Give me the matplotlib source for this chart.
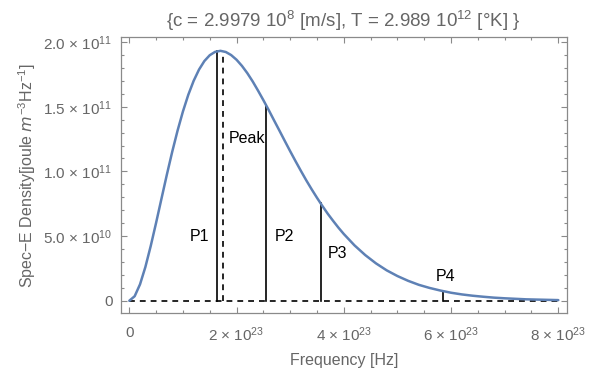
import matplotlib
matplotlib.use("Agg")
import matplotlib.pyplot as plt
from matplotlib.ticker import FixedLocator, MultipleLocator

plt.rcParams["font.family"] = ["Liberation Sans", "DejaVu Sans"]
plt.rcParams["mathtext.default"] = "regular"

# ── Data ──────────────────────────────────────────────
# frequency in units of 1e23 Hz, density in units of 1e11
freq = [0.0, 0.1, 0.2, 0.3, 0.4, 0.5, 0.6, 0.7, 0.8, 0.9,
        1.0, 1.1, 1.2, 1.3, 1.4, 1.5, 1.6, 1.7, 1.8, 1.9,
        2.0, 2.1, 2.2, 2.3, 2.4, 2.5, 2.6, 2.7, 2.8, 2.9,
        3.0, 3.1, 3.2, 3.3, 3.4, 3.5, 3.6, 3.7, 3.8, 3.9,
        4.0, 4.2, 4.4, 4.6, 4.8, 5.0, 5.2, 5.4, 5.6, 5.8,
        6.0, 6.2, 6.4, 6.6, 6.8, 7.0, 7.2, 7.4, 7.6, 7.8, 8.0]
density = [0.0, 0.035, 0.127, 0.261, 0.424, 0.603, 0.789, 0.974, 1.151, 1.315,
           1.463, 1.592, 1.700, 1.787, 1.853, 1.898, 1.924, 1.932, 1.923, 1.899,
           1.863, 1.816, 1.760, 1.696, 1.625, 1.551, 1.474, 1.394, 1.315, 1.235,
           1.156, 1.079, 1.004, 0.931, 0.862, 0.796, 0.733, 0.673, 0.618, 0.565,
           0.516, 0.428, 0.353, 0.289, 0.235, 0.191, 0.154, 0.123, 0.099, 0.079,
           0.062, 0.049, 0.039, 0.031, 0.024, 0.019, 0.015, 0.011, 0.009, 0.007, 0.005]

# marker lines: label, x position, height, label position
mark_names = ["P1", "P2", "P3", "P4"]
mark_x = [1.63, 2.549, 3.569, 5.855]
mark_h = [1.927, 1.513, 0.757, 0.076]
mark_lx = [1.30, 2.90, 3.89, 5.90]
mark_ly = [0.498, 0.495, 0.365, 0.191]

peak_x = 1.742
peak_h = 1.930
peak_lx, peak_ly = 2.19, 1.253

xticks = [0, 2, 4, 6, 8]
xtick_labels = ["0", "2 × 10$^{23}$", "4 × 10$^{23}$", "6 × 10$^{23}$", "8 × 10$^{23}$"]
yticks = [0, 0.5, 1.0, 1.5, 2.0]
ytick_labels = ["0", "5.0 × 10$^{10}$", "1.0 × 10$^{11}$", "1.5 × 10$^{11}$", "2.0 × 10$^{11}$"]

curve_color = "#5E81B5"
gray = "#666666"
frame = "#8a8a8a"

fig = plt.figure(figsize=(6.06, 3.74), dpi=100)
ax = fig.add_axes([0.1992, 0.1623, 0.7359, 0.7388])

ax.plot([0, 8], [0, 0], color="black", lw=1.2, ls=(0, (3.5, 3.0)), zorder=2)
ax.plot(freq, density, color=curve_color, lw=1.8, zorder=3,
        solid_joinstyle="round", solid_capstyle="round")

for name, x, h, lx, ly in zip(mark_names, mark_x, mark_h, mark_lx, mark_ly):
    ax.plot([x, x], [0, h], color="black", lw=1.2, zorder=2)
    ax.text(lx, ly, name, fontsize=11.5, ha="center", va="center", color="black")

ax.plot([peak_x, peak_x], [0, peak_h], color="black", lw=1.2,
        ls=(0, (3.5, 3.0)), zorder=2)
ax.text(peak_lx, peak_ly, "Peak", fontsize=11.5, ha="center", va="center", color="black")

ax.set_xlim(-0.16, 8.156)
ax.set_ylim(-0.097, 2.039)

ax.xaxis.set_major_locator(FixedLocator(xticks))
ax.set_xticklabels(xtick_labels)
ax.xaxis.set_minor_locator(MultipleLocator(0.5))
ax.yaxis.set_major_locator(FixedLocator(yticks))
ax.set_yticklabels(ytick_labels)
ax.yaxis.set_minor_locator(MultipleLocator(0.1))

ax.tick_params(which="both", direction="in", top=True, right=True,
               color=frame, width=0.8, labelcolor=gray, labelsize=11)
ax.tick_params(which="major", length=4.5, pad=6)
ax.tick_params(axis="x", which="major", pad=9)
ax.tick_params(which="minor", length=2.5)
for s in ax.spines.values():
    s.set_color(frame)
    s.set_linewidth(0.9)

ax.set_xlabel("Frequency [Hz]", color=gray, fontsize=11.5, labelpad=6)
ax.set_ylabel("Spec−E Density[joule $\\mathit{m}^{-3}$Hz$^{-1}$]", color=gray,
              fontsize=11.5, labelpad=4)
ax.set_title("{c = 2.9979 10$^{8}$ [m/s], T = 2.989 10$^{12}$ [°K] }",
             color=gray, fontsize=13.5, pad=7)

fig.savefig("out.png", dpi=100)
